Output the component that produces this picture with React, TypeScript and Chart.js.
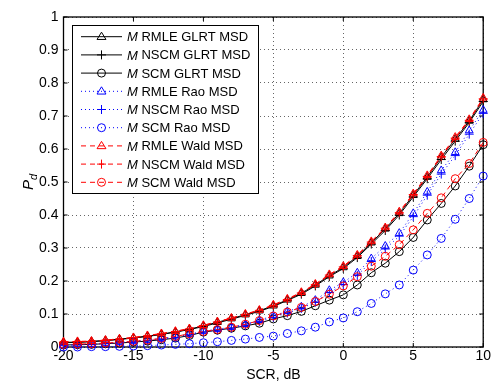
import React, { useEffect, useRef } from "react";
import { Chart, registerables } from "chart.js";
Chart.register(...registerables);

const snr = [-20, -19, -18, -17, -16, -15, -14, -13, -12, -11, -10, -9, -8, -7, -6, -5, -4, -3, -2, -1, 0, 1, 2, 3, 4, 5, 6, 7, 8, 9, 10];

const rmleGlrt = [0.014, 0.015, 0.017, 0.020, 0.024, 0.028, 0.033, 0.039, 0.046, 0.054, 0.064, 0.075, 0.086, 0.098, 0.110, 0.125, 0.143, 0.163, 0.188, 0.216, 0.241, 0.275, 0.316, 0.358, 0.405, 0.460, 0.515, 0.575, 0.630, 0.685, 0.750];
const nscmGlrt = [0.013, 0.014, 0.016, 0.019, 0.023, 0.027, 0.032, 0.038, 0.045, 0.053, 0.062, 0.073, 0.084, 0.096, 0.108, 0.123, 0.141, 0.160, 0.185, 0.213, 0.238, 0.271, 0.312, 0.353, 0.400, 0.455, 0.510, 0.568, 0.624, 0.680, 0.744];
const scmGlrt = [0.006, 0.007, 0.008, 0.010, 0.012, 0.015, 0.018, 0.022, 0.027, 0.035, 0.045, 0.051, 0.057, 0.064, 0.072, 0.085, 0.095, 0.108, 0.125, 0.142, 0.158, 0.188, 0.225, 0.254, 0.289, 0.332, 0.385, 0.435, 0.488, 0.548, 0.613];
const rmleRao = [0.006, 0.007, 0.009, 0.011, 0.014, 0.017, 0.021, 0.026, 0.031, 0.039, 0.048, 0.054, 0.060, 0.069, 0.081, 0.095, 0.108, 0.122, 0.142, 0.172, 0.196, 0.225, 0.268, 0.306, 0.345, 0.405, 0.470, 0.535, 0.590, 0.656, 0.718];
const nscmRao = [0.005, 0.006, 0.008, 0.010, 0.013, 0.016, 0.020, 0.024, 0.029, 0.037, 0.045, 0.051, 0.057, 0.066, 0.077, 0.090, 0.103, 0.117, 0.136, 0.165, 0.189, 0.217, 0.259, 0.297, 0.336, 0.395, 0.460, 0.524, 0.580, 0.645, 0.708];
const scmRao = [0.000, 0.000, 0.001, 0.001, 0.002, 0.003, 0.004, 0.006, 0.008, 0.010, 0.013, 0.016, 0.020, 0.024, 0.029, 0.033, 0.041, 0.049, 0.060, 0.076, 0.088, 0.107, 0.132, 0.161, 0.188, 0.233, 0.279, 0.329, 0.387, 0.450, 0.518];
const rmleWald = [0.016, 0.017, 0.018, 0.021, 0.025, 0.029, 0.035, 0.041, 0.048, 0.056, 0.066, 0.077, 0.088, 0.100, 0.112, 0.128, 0.146, 0.166, 0.191, 0.220, 0.245, 0.279, 0.320, 0.362, 0.410, 0.465, 0.520, 0.580, 0.636, 0.690, 0.755];
const nscmWald = [0.015, 0.016, 0.017, 0.020, 0.024, 0.028, 0.034, 0.040, 0.047, 0.055, 0.065, 0.076, 0.087, 0.099, 0.111, 0.126, 0.144, 0.164, 0.189, 0.218, 0.243, 0.277, 0.318, 0.360, 0.407, 0.462, 0.517, 0.577, 0.633, 0.687, 0.752];
const scmWald = [0.008, 0.009, 0.010, 0.012, 0.014, 0.017, 0.021, 0.026, 0.032, 0.040, 0.047, 0.053, 0.060, 0.069, 0.080, 0.094, 0.106, 0.120, 0.138, 0.160, 0.185, 0.213, 0.245, 0.275, 0.310, 0.355, 0.405, 0.452, 0.510, 0.556, 0.620];

const seriesNames = ["RMLE GLRT MSD", "NSCM GLRT MSD", "SCM GLRT MSD", "RMLE Rao MSD", "NSCM Rao MSD", "SCM Rao MSD", "RMLE Wald MSD", "NSCM Wald MSD", "SCM Wald MSD"];
const seriesValues = [rmleGlrt, nscmGlrt, scmGlrt, rmleRao, nscmRao, scmRao, rmleWald, nscmWald, scmWald];
const seriesColors = ["#000000", "#000000", "#000000", "#0000ff", "#0000ff", "#0000ff", "#ff0000", "#ff0000", "#ff0000"];
const seriesMarkers = ["triangle", "cross", "circle", "triangle", "cross", "circle", "triangle", "cross", "circle"];
const seriesDash = [[], [], [], [1, 3], [1, 3], [1, 3], [5, 4], [5, 4], [5, 4]];

const xTicks = [-20, -15, -10, -5, 0, 5, 10];
const yTicks = [0, 0.1, 0.2, 0.3, 0.4, 0.5, 0.6, 0.7, 0.8, 0.9, 1];
const xTitle = "SCR, dB";
const yTitleMain = "P";
const yTitleSub = "d";
const legendPrefix = "M";

const FONT = '"Liberation Sans", Arial, Helvetica, sans-serif';

function markerRadius(m: string) {
  return m === "triangle" ? 4.5 : m === "cross" ? 4.5 : 4;
}

function drawMarker(ctx: CanvasRenderingContext2D, m: string, x: number, y: number, color: string) {
  ctx.save();
  ctx.strokeStyle = color;
  ctx.lineWidth = 1;
  ctx.setLineDash([]);
  ctx.beginPath();
  const r = markerRadius(m);
  if (m === "circle") {
    ctx.arc(x, y, r, 0, Math.PI * 2);
  } else if (m === "triangle") {
    const s = (r * Math.sqrt(3)) / 2;
    ctx.moveTo(x, y - r);
    ctx.lineTo(x + s * 1.15, y + r / 2 + 0.5);
    ctx.lineTo(x - s * 1.15, y + r / 2 + 0.5);
    ctx.closePath();
  } else {
    ctx.moveTo(x - r, y);
    ctx.lineTo(x + r, y);
    ctx.moveTo(x, y - r);
    ctx.lineTo(x, y + r);
  }
  ctx.stroke();
  ctx.restore();
}

const framePlugin = {
  id: "frame",
  beforeDatasetsDraw(chart: any) {
    const { ctx, chartArea, scales } = chart;
    const { left, right, top, bottom } = chartArea;
    ctx.save();
    ctx.strokeStyle = "#000";
    ctx.lineWidth = 1.3;
    ctx.setLineDash([]);
    ctx.strokeRect(left, top, right - left, bottom - top);
    ctx.lineWidth = 1;
    const tl = 4;
    ctx.beginPath();
    xTicks.forEach((v) => {
      const px = scales.x.getPixelForValue(v);
      ctx.moveTo(px, bottom);
      ctx.lineTo(px, bottom - tl);
      ctx.moveTo(px, top);
      ctx.lineTo(px, top + tl);
    });
    yTicks.forEach((v) => {
      const py = scales.y.getPixelForValue(v);
      ctx.moveTo(left, py);
      ctx.lineTo(left + tl, py);
      ctx.moveTo(right, py);
      ctx.lineTo(right - tl, py);
    });
    ctx.stroke();
    ctx.restore();
  },
  afterDraw(chart: any) {
    const { ctx, chartArea } = chart;
    // y title
    ctx.save();
    ctx.fillStyle = "#000";
    ctx.translate(30, (chartArea.top + chartArea.bottom) / 2);
    ctx.rotate(-Math.PI / 2);
    ctx.font = `italic 15px ${FONT}`;
    const wP = ctx.measureText(yTitleMain).width;
    ctx.font = `italic 11px ${FONT}`;
    const wd = ctx.measureText(yTitleSub).width;
    const total = wP + wd;
    ctx.textBaseline = "alphabetic";
    ctx.textAlign = "left";
    ctx.font = `italic 15px ${FONT}`;
    ctx.fillText(yTitleMain, -total / 2, 3);
    ctx.font = `italic 11px ${FONT}`;
    ctx.fillText(yTitleSub, -total / 2 + wP, 7);
    ctx.restore();

    // legend
    const bx = 72.5, by = 25.5, bw = 186, bh = 168;
    ctx.save();
    ctx.fillStyle = "#fff";
    ctx.fillRect(bx, by, bw, bh);
    ctx.strokeStyle = "#000";
    ctx.lineWidth = 1;
    ctx.strokeRect(bx, by, bw, bh);
    for (let i = 0; i < seriesNames.length; i++) {
      const y = 36.7 + 18.2 * i;
      ctx.save();
      ctx.strokeStyle = seriesColors[i];
      ctx.lineWidth = 1;
      ctx.setLineDash(seriesDash[i]);
      ctx.beginPath();
      ctx.moveTo(81, y);
      ctx.lineTo(122, y);
      ctx.stroke();
      ctx.restore();
      drawMarker(ctx, seriesMarkers[i], 101.5, y, seriesColors[i]);
      ctx.fillStyle = "#000";
      ctx.textBaseline = "middle";
      ctx.textAlign = "left";
      ctx.font = `italic 13px ${FONT}`;
      ctx.fillText(legendPrefix, 127, y + 1);
      const wm = ctx.measureText(legendPrefix + " ").width;
      ctx.font = `13px ${FONT}`;
      ctx.fillText(seriesNames[i], 127 + wm, y + 1);
    }
    ctx.restore();
  },
};

export default function App() {
  const ref = useRef<HTMLCanvasElement>(null);
  useEffect(() => {
    document.body.style.margin = "0";
    Chart.defaults.font.family = FONT;
    Chart.defaults.font.size = 13;
    Chart.defaults.color = "#000";
    const datasets = seriesNames.map((name, i) => ({
      label: name,
      data: snr.map((x, j) => ({ x, y: seriesValues[i][j] })),
      borderColor: seriesColors[i],
      backgroundColor: "rgba(0,0,0,0)",
      borderWidth: 1,
      borderDash: seriesDash[i],
      pointStyle: seriesMarkers[i] as any,
      pointRadius: markerRadius(seriesMarkers[i]),
      pointBorderColor: seriesColors[i],
      pointBackgroundColor: "rgba(0,0,0,0)",
      pointBorderWidth: 1,
      tension: 0,
      fill: false,
      clip: false as any,
      order: seriesNames.length - i,
    }));
    const chart = new Chart(ref.current!, {
      type: "line",
      data: { datasets },
      options: {
        animation: false,
        responsive: false,
        events: [],
        layout: { padding: { left: 0, top: 17, right: 8.5, bottom: 0 } },
        plugins: { legend: { display: false }, tooltip: { enabled: false } },
        scales: {
          x: {
            type: "linear",
            min: -20,
            max: 10,
            afterBuildTicks: (s: any) => { s.ticks = xTicks.map((v) => ({ value: v })); },
            afterFit: (s: any) => { s.height = 37; },
            ticks: { padding: 1, maxRotation: 0, font: { size: 14 }, callback: (v: any) => String(v) },
            grid: { color: "rgba(0,0,0,0.6)", lineWidth: 1, drawTicks: false, tickLength: 0 },
            border: { display: false, dash: [1, 3] },
            title: { display: true, text: xTitle, font: { size: 14 }, padding: { top: 6, bottom: 0 } },
          },
          y: {
            type: "linear",
            min: 0,
            max: 1,
            afterBuildTicks: (s: any) => { s.ticks = yTicks.map((v) => ({ value: v })); },
            afterFit: (s: any) => { s.width = 63.5; },
            ticks: { padding: 5, font: { size: 14 }, callback: (v: any) => String(Math.round(v * 10) / 10) },
            grid: { color: "rgba(0,0,0,0.6)", lineWidth: 1, drawTicks: false, tickLength: 0 },
            border: { display: false, dash: [1, 3] },
          },
        },
      },
      plugins: [framePlugin],
    });
    return () => chart.destroy();
  }, []);
  return (
    <div style={{ position: "fixed", left: 0, top: 0, width: 492, height: 384, background: "#fff" }}>
      <canvas ref={ref} width={492} height={384} />
    </div>
  );
}
